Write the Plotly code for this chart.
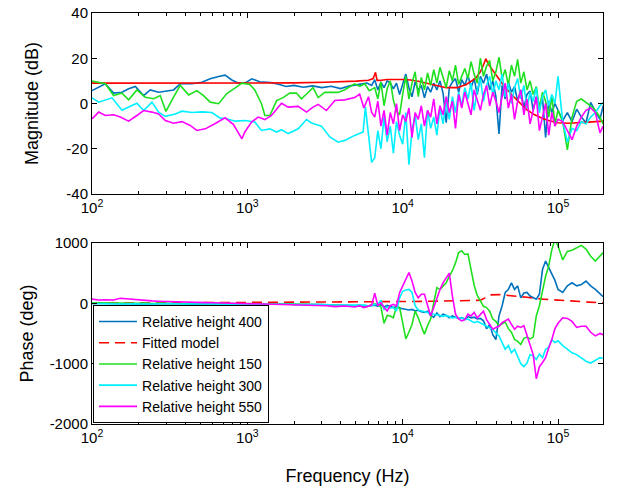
import plotly.graph_objects as go

# ---------------- data (frequencies given as log10(Hz)) ----------------
# shared dense grid of the measurements above ~6.6 kHz
hi_exp = [3.82, 3.84, 3.86, 3.88, 3.90, 3.92, 3.94, 3.96, 3.98, 4.00,
          4.02, 4.04, 4.06, 4.08, 4.10, 4.12, 4.14, 4.16, 4.18, 4.20,
          4.22, 4.24, 4.26, 4.28, 4.30, 4.32, 4.34, 4.36, 4.38, 4.40,
          4.42, 4.44, 4.46, 4.48, 4.50, 4.52, 4.54, 4.56, 4.58, 4.60,
          4.62, 4.64, 4.66, 4.68, 4.70, 4.72, 4.74, 4.76, 4.78, 4.80,
          4.82, 4.84, 4.86, 4.88, 4.90, 4.92, 4.94, 4.96, 4.98, 5.00,
          5.03, 5.06, 5.09, 5.12, 5.15, 5.18, 5.21, 5.24, 5.27, 5.29]

# Relative height 400 (blue)
h400_lo_exp = [2.000, 2.086, 2.139, 2.193, 2.236, 2.279, 2.332, 2.375, 2.429, 2.482,
               2.525, 2.568, 2.643, 2.707, 2.761, 2.815, 2.857, 2.900, 2.943, 2.986,
               3.029, 3.08, 3.15, 3.20, 3.25, 3.30, 3.36, 3.42, 3.48, 3.54,
               3.60, 3.66, 3.72, 3.77, 3.80]
h400_lo_mag = [5.7, 8.7, 4.6, 5.0, 6.5, 7.5, 3.5, 6.0, 5.0, 5.5,
               6.0, 8.7, 8.7, 9.4, 10.9, 11.9, 12.5, 10.4, 9.0, 9.1,
               10.9, 9.6, 9.3, 8.5, 7.5, 8.0, 7.2, 7.8, 7.0, 7.6,
               6.6, 7.8, 8.6, 9.0, 8.0]
h400_lo_ph = [5, -5, 0, -8, -3, -10, -5, -12, -8, -4,
              -10, -6, -14, -9, -5, -12, -8, -10, -6, -12,
              -8, -14, -10, -15, -12, -18, -14, -20, -22, -26,
              -30, -40, -45, -50, -35]
h400_hi_mag = [10.5, 6.0, 9.5, 7.0, 10.0, 9.0, 6.5, 9.0, 4.0, 8.5,
               13.0, 7.0, 3.0, 9.5, 6.0, 8.0, 2.5, 7.5, 5.0, 9.0,
               6.0, 10.0, 4.5, -8.5, 7.0, 9.5, 11.0, 5.0, 10.5, 8.0,
               12.5, 7.0, 11.0, 4.0, 12.0, 9.0, 13.0, 6.0, 10.0, 3.0,
               -13.5, 8.0, 2.0, 9.5, 5.0, 7.5, 1.0, 6.0, -2.0, 4.0,
               5.5, -3.0, 3.0, -1.0, 2.5, -15.0, 1.0, -4.0, 0.0, -3.0,
               -7.5, -4.0, -8.0, -2.5, -6.0, -8.5, 0.5, -3.5, -7.0, -1.0]
h400_hi_ph = [-30, -45, -20, -60, -35, -50, -70, -55, -80, -90,
              -95, -110, -100, -125, -115, -140, -150, -130, -200, -230,
              -160, -220, -180, -200, -240, -210, -230, -250, -235, -260,
              -220, -240, -230, -260, -250, -290, -420, -350, -520, -600,
              -210, -40, 180, 230, 340, 230, 290, 90, 170, 180,
              120, 100, 70, 150, 560, 700, 600, 480, 380, 230,
              180, 290, 340, 290, 310, 370, 290, 230, 150, 110]

# Relative height 150 (green)
h150_lo_exp = [2.000, 2.086, 2.139, 2.193, 2.236, 2.289, 2.343, 2.397, 2.439, 2.476,
               2.525, 2.568, 2.622, 2.675, 2.718, 2.761, 2.815, 2.868, 2.922, 2.965,
               3.016, 3.048, 3.091, 3.113, 3.145, 3.188, 3.230, 3.273, 3.316, 3.348,
               3.381, 3.423, 3.456, 3.498, 3.541, 3.584, 3.627, 3.691, 3.723, 3.756,
               3.785]
h150_lo_mag = [9.9, 8.7, 3.5, 4.6, 1.6, 6.0, 2.8, 2.1, 3.5, -3.5,
               2.8, 8.0, 3.8, 5.7, 3.5, 0.6, -0.1, 4.4, 6.9, 9.0,
               8.4, 6.0, -0.1, -5.3, -5.3, 1.3, 2.6, 4.6, 4.6, 2.1,
               4.2, 7.0, 2.6, 4.9, 4.9, 4.9, 6.1, 8.7, 7.6, 8.7,
               5.7]
h150_lo_ph = [10, 5, 8, 0, 5, 2, 6, -2, 4, 0,
              3, -3, 2, -2, 0, -4, 0, -5, -2, -6,
              -3, -8, -5, -10, -8, -12, -10, -15, -12, -18,
              -15, -20, -22, -25, -28, -30, -35, -40, -30, -45,
              -35]
h150_hi_mag = [7.0, 2.0, 9.5, -1.0, 6.5, 10.0, 1.5, -3.5, -5.0, 4.0,
               12.0, 2.0, 9.0, 14.0, 3.0, 11.5, 6.0, 13.5, 8.0, 15.0,
               9.0, 16.0, 11.0, 7.0, 14.5, 10.0, 17.0, 8.5, 12.0, 15.5,
               11.0, 18.5, 13.0, 9.0, 20.0, 12.0, 16.5, 19.0, 10.0, 14.0,
               20.5, 11.0, 15.0, 8.0, 17.0, 12.0, 19.5, 9.0, 14.0, 6.0,
               10.0, 4.0, 7.5, -2.0, 5.0, 1.0, -6.0, 3.0, -9.0, -3.0,
               -8.0, -20.5, -6.0, 1.0, 2.0, 0.5, -1.0, -3.0, -6.0, -9.0]
h150_hi_ph = [-10, -20, -60, -330, -200, -210, -240, -50, -70, -320,
              -590, -480, -350, -130, -240, -380, -510, -370, -260, 10,
              260, 230, 290, 340, 450, 540, 670, 840, 870, 810,
              820, 560, 300, 130, 40, -50, -70, -130, -260, -300,
              -370, -340, -310, -420, -480, -600, -630, -680, -580, -560,
              -590, -560, -210, -40, 230, 450, 620, 890, 1060, 950,
              720, 860, 880, 920, 960, 900, 780, 700, 780, 840]

# Relative height 300 (cyan)
h300_lo_exp = [2.000, 2.043, 2.129, 2.193, 2.257, 2.289, 2.332, 2.386, 2.429, 2.472,
               2.536, 2.579, 2.643, 2.707, 2.772, 2.825, 2.857, 2.922, 2.986, 3.048,
               3.091, 3.145, 3.188, 3.220, 3.263, 3.327, 3.381, 3.413, 3.477, 3.531,
               3.584, 3.627, 3.691, 3.745, 3.760, 3.780, 3.800]
h300_lo_mag = [2.5, 0.6, 2.5, -3.0, -0.9, 0.1, -3.1, 0.6, -3.8, -5.7,
               -4.6, -3.4, -4.0, -3.7, -4.0, -6.5, -6.5, -7.8, -7.5, -8.2,
               -11.9, -11.2, -12.6, -11.6, -13.3, -11.2, -7.1, -8.6, -10.0, -14.8,
               -17.1, -16.3, -14.1, -12.6, -1.6, -14.0, -26.0]
h300_lo_ph = [-5, -8, -4, -10, -6, -9, -5, -10, -7, -12,
              -8, -10, -6, -12, -9, -14, -10, -12, -15, -10,
              -14, -16, -12, -18, -15, -20, -18, -22, -20, -25,
              -28, -32, -35, -40, -30, -45, -40]
h300_hi_mag = [-24.0, -12.0, -20.0, -6.0, -17.0, -10.0, -22.0, -8.0, -14.0, -18.0,
               -4.0, -27.0, -12.0, -5.0, -16.0, -9.0, -24.0, -3.0, -11.0, -6.0,
               -14.0, -2.0, -9.0, 1.0, -7.0, 3.0, -4.0, 5.0, -1.0, 7.0,
               2.0, 9.0, -3.0, 6.0, 11.0, 1.0, 8.0, 12.0, 4.0, 10.0,
               6.0, 13.0, 3.0, 9.0, 0.0, 7.0, 11.0, 2.0, 8.0, -2.0,
               5.0, 1.0, 7.0, -4.0, 3.0, 6.0, -1.0, 4.0, 0.0, 12.0,
               -8.0, -17.0, -11.0, -12.0, -8.0, -9.0, -6.0, -4.0, -1.0, 0.5]
h300_hi_ph = [-20, -10, 50, -100, -60, -80, -70, -127, 90, 200,
              220, 230, 180, -40, -110, -125, -145, -160, -170, -180,
              -190, -200, -215, -200, -225, -240, -230, -250, -240, -270,
              -260, -290, -320, -300, -320, -350, -380, -400, -430, -490,
              -540, -650, -760, -700, -820, -760, -870, -1000, -1050, -990,
              -850, -870, -930, -840, -900, -760, -730, -600, -650, -620,
              -700, -760, -820, -850, -900, -960, -990, -940, -900, -910]

# Relative height 550 (magenta)
h550_lo_exp = [2.000, 2.043, 2.086, 2.139, 2.182, 2.236, 2.289, 2.332, 2.386, 2.429,
               2.472, 2.525, 2.579, 2.632, 2.675, 2.729, 2.782, 2.857, 2.911, 2.965,
               2.984, 3.027, 3.070, 3.113, 3.155, 3.220, 3.263, 3.327, 3.381, 3.423,
               3.456, 3.509, 3.563, 3.627, 3.691, 3.723, 3.750, 3.780, 3.800]
h550_lo_mag = [-6.8, -3.8, -5.3, -5.0, -6.0, -7.8, -5.3, -3.1, -3.8, -4.6,
               -7.5, -8.7, -8.0, -9.7, -11.9, -11.2, -9.3, -6.3, -9.3, -15.6,
               -12.6, -8.2, -6.0, -7.1, -5.3, 0.1, -1.6, -1.3, -3.8, -1.6,
               -0.4, -3.1, 1.3, 1.6, 2.6, 4.2, -2.0, 3.0, -4.0]
h550_lo_ph = [70, 55, 60, 55, 85, 70, 60, 45, 40, 35,
              30, 25, 20, 18, 15, 12, 10, 5, 3, 0,
              0, -3, -5, -8, -10, -12, -15, -18, -20, -25,
              -30, -40, -55, -45, -60, -40, -70, -50, -30]
h550_hi_mag = [-6.0, 1.0, -10.0, -3.0, -14.0, -4.0, -9.0, 0.0, -12.0, -5.0,
               -8.0, -2.0, -15.0, -4.0, -7.0, -1.0, -10.0, -3.0, -6.0, 2.0,
               -9.0, -1.0, -5.0, 3.0, -4.0, 1.0, -11.0, 4.0, -2.0, 5.0,
               0.0, -5.0, 6.0, 2.0, -3.0, 4.0, 8.0, -1.0, 5.0, 1.0,
               -4.0, 3.0, 9.0, -2.0, 4.0, -7.0, 1.0, 6.0, -5.0, 2.0,
               -9.0, -3.0, 3.0, -12.0, -6.0, 0.0, -14.0, -4.0, -10.0, -7.0,
               -8.0, -12.0, -16.0, -10.0, -6.0, -3.0, -2.0, -4.0, -13.0, -10.0]
h550_hi_ph = [170, -40, 10, -70, -127, -40, -17, -44, 177, 290,
              400, 510, 370, 180, 90, 150, 150, -20, -210, -70,
              90, 230, 340, 420, 500, 120, -180, -260, -290, -270,
              -180, -210, -150, -240, -180, -130, -270, -350, -430, -400,
              -380, -320, -290, -260, -350, -430, -380, -400, -370, -540,
              -700, -850, -1250, -1050, -980, -900, -740, -600, -420, -330,
              -240, -250, -300, -400, -380, -380, -480, -540, -500, -520]

# Fitted model (red)
fit_mag_exp = [2.0, 2.5, 3.0, 3.3, 3.5, 3.6, 3.7, 3.78, 3.81, 3.825,
               3.835, 3.85, 3.9, 4.0, 4.05, 4.1, 4.17, 4.23, 4.28, 4.35,
               4.41, 4.47, 4.50, 4.52, 4.535, 4.55, 4.57, 4.60, 4.65, 4.70,
               4.75, 4.80, 4.85, 4.90, 4.95, 5.0, 5.07, 5.15, 5.22, 5.29]
fit_mag = [9.0, 9.0, 9.0, 9.1, 9.4, 9.6, 9.9, 10.3, 11.0, 13.8,
           10.2, 10.2, 10.6, 10.6, 10.4, 9.8, 8.6, 7.6, 7.0, 7.0,
           8.4, 11.2, 14.0, 17.0, 19.8, 17.5, 15.5, 12.5, 8.0, 4.0,
           0.8, -2.8, -5.0, -6.6, -7.7, -8.5, -8.7, -8.5, -8.1, -7.8]
fit_ph_exp = [2.0, 3.0, 3.5, 3.8, 4.0, 4.2, 4.4, 4.5, 4.53, 4.56,
              4.62, 4.70, 4.80, 4.90, 5.0, 5.1, 5.2, 5.29]
fit_ph = [0, 10, 15, 20, 30, 35, 40, 50, 90, 140,
          145, 130, 100, 70, 50, 35, 20, 10]

series_names = ["Relative height 400", "Fitted model", "Relative height 150",
                "Relative height 300", "Relative height 550"]

x_tick_vals = [1e2, 1e3, 1e4, 1e5]
x_tick_text = ["10<sup>2</sup>", "10<sup>3</sup>", "10<sup>4</sup>", "10<sup>5</sup>"]
mag_tick_vals = [-40, -20, 0, 20, 40]
mag_tick_text = ["-40", "-20", "0", "20", "40"]
ph_tick_vals = [-2000, -1000, 0, 1000]
ph_tick_text = ["-2000", "-1000", "0", "1000"]

# ---------------- figure ----------------
def hz(exps):
    return [10 ** e for e in exps]

measured = [
    ("Relative height 400", "#0072BD", h400_lo_exp, h400_lo_mag, h400_lo_ph, h400_hi_mag, h400_hi_ph),
    ("Relative height 150", "#1FE01F", h150_lo_exp, h150_lo_mag, h150_lo_ph, h150_hi_mag, h150_hi_ph),
    ("Relative height 300", "#00F0FF", h300_lo_exp, h300_lo_mag, h300_lo_ph, h300_hi_mag, h300_hi_ph),
    ("Relative height 550", "#FF00FF", h550_lo_exp, h550_lo_mag, h550_lo_ph, h550_hi_mag, h550_hi_ph),
]
for name, c, le, lm, lp, hm, hp in measured:
    assert len(le) == len(lm) == len(lp), name
    assert len(hm) == len(hp) == len(hi_exp), name
assert len(fit_mag_exp) == len(fit_mag) and len(fit_ph_exp) == len(fit_ph)

fig = go.Figure()
LW = 1.6
RED = "#FF0000"

mag_traces = []
ph_traces = {}
for name, c, le, lm, lp, hm, hp in measured:
    f = hz(le + hi_exp)
    mag_traces.append(go.Scatter(x=f, y=lm + hm, mode="lines", line=dict(color=c, width=LW),
                                 name=name, showlegend=False, xaxis="x", yaxis="y"))
    ph_traces[name] = go.Scatter(x=f, y=lp + hp, mode="lines", line=dict(color=c, width=LW),
                                 name=name, xaxis="x2", yaxis="y2")

# magnitude: blue, red, green, cyan, magenta
fig.add_trace(mag_traces[0])
fig.add_trace(go.Scatter(x=hz(fit_mag_exp), y=fit_mag, mode="lines",
                         line=dict(color=RED, width=LW), name="Fitted model",
                         showlegend=False, xaxis="x", yaxis="y"))
for t in mag_traces[1:]:
    fig.add_trace(t)

# phase
fig.add_trace(ph_traces["Relative height 400"])
fig.add_trace(go.Scatter(x=hz(fit_ph_exp), y=fit_ph, mode="lines",
                         line=dict(color=RED, width=LW, dash="10px,6px"), name="Fitted model",
                         xaxis="x2", yaxis="y2"))
for n in series_names[2:]:
    fig.add_trace(ph_traces[n])

FONT = "Liberation Sans, Arial, Helvetica, sans-serif"
minor_vals = [m * 10 ** e for e in (2, 3, 4, 5) for m in range(2, 10)]

def xaxis_cfg(anchor, title=None):
    d = dict(type="log", range=[2, 5.2894], anchor=anchor, domain=[0, 1],
             automargin=False,
             showline=True, linecolor="black", linewidth=1, mirror="allticks",
             ticks="inside", ticklen=5, tickcolor="black", tickwidth=1,
             tickmode="array", tickvals=x_tick_vals, ticktext=x_tick_text,
             tickfont=dict(size=15, color="black", family=FONT),
             showgrid=False, zeroline=False,
             minor=dict(ticks="inside", ticklen=3, tickcolor="black",
                        tickmode="array", tickvals=minor_vals, showgrid=False))
    if title:
        d["title"] = dict(text=title, font=dict(size=18, color="black", family=FONT), standoff=24)
    return d

def yaxis_cfg(anchor, domain, rng, vals, text, title, standoff):
    return dict(anchor=anchor, domain=domain, range=rng, automargin=False,
                showline=True, linecolor="black", linewidth=1, mirror="allticks",
                ticks="inside", ticklen=5, tickcolor="black",
                tickmode="array", tickvals=vals, ticktext=text,
                tickfont=dict(size=15, color="black", family=FONT),
                showgrid=False, zeroline=False,
                title=dict(text=title, font=dict(size=18, color="black", family=FONT),
                           standoff=standoff))

fig.update_layout(
    width=618, height=487,
    margin=dict(l=92, r=15, t=13, b=63, autoexpand=False),
    paper_bgcolor="white", plot_bgcolor="white",
    font=dict(family=FONT, color="black"),
    xaxis=xaxis_cfg("y"),
    yaxis=yaxis_cfg("x", [0.5596, 1.0], [-40, 40], mag_tick_vals, mag_tick_text,
                    "Magnitude (dB)", 23),
    xaxis2=xaxis_cfg("y2", "Frequency (Hz)"),
    yaxis2=yaxis_cfg("x2", [0.0, 0.4404], [-2000, 1000], ph_tick_vals, ph_tick_text,
                     "Phase (deg)", 11),
    legend=dict(x=0.002, y=0.0025, xanchor="left", yanchor="bottom",
                bgcolor="white", bordercolor="black", borderwidth=1,
                font=dict(size=14, color="black", family=FONT),
                tracegroupgap=0, itemwidth=38),
    showlegend=True,
)

fig.write_html("out.html")
